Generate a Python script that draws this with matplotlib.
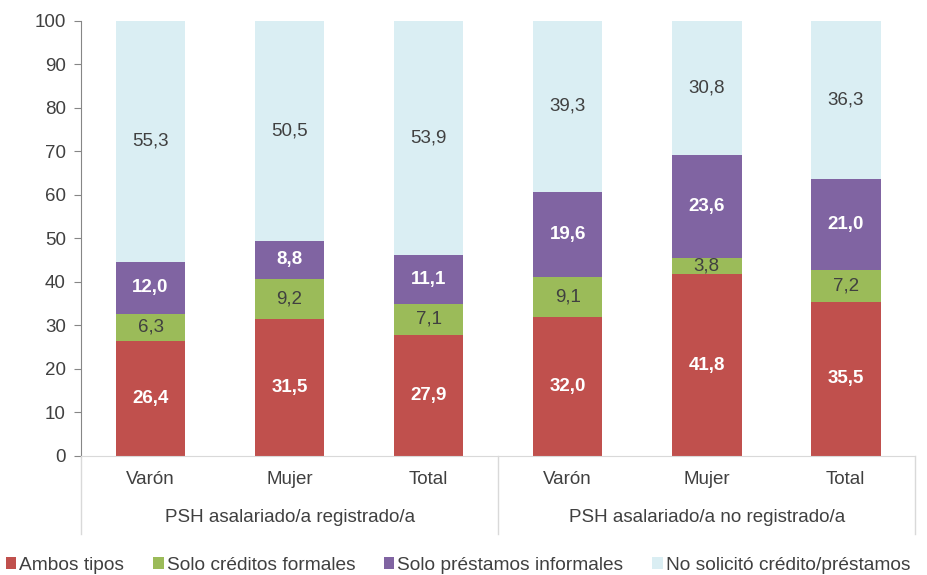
import matplotlib.pyplot as plt
from matplotlib.transforms import blended_transform_factory

plt.rcParams['font.family'] = ['Liberation Sans', 'DejaVu Sans']

categorias = ["Varón", "Mujer", "Total", "Varón", "Mujer", "Total"]
grupos = ["PSH asalariado/a registrado/a", "PSH asalariado/a no registrado/a"]

ambos = [26.4, 31.5, 27.9, 32.0, 41.8, 35.5]
creditos = [6.3, 9.2, 7.1, 9.1, 3.8, 7.2]
prestamos = [12.0, 8.8, 11.1, 19.6, 23.6, 21.0]
no_solicito = [55.3, 50.5, 53.9, 39.3, 30.8, 36.3]

series = [
    ("Ambos tipos", ambos, "#C0504D", "white", "bold"),
    ("Solo créditos formales", creditos, "#9BBB59", "#404040", "normal"),
    ("Solo préstamos informales", prestamos, "#8064A2", "white", "bold"),
    ("No solicitó crédito/préstamos", no_solicito, "#DAEEF3", "#404040", "normal"),
]

FS = 13.5

fig = plt.figure(figsize=(9.27, 5.75), dpi=100)
ax = fig.add_axes([0.0874, 0.207, 0.9, 0.7565])

x = list(range(len(categorias)))
bottom = [0.0] * len(x)
for nombre, vals, color, tcol, peso in series:
    ax.bar(x, vals, 0.5, bottom=bottom, color=color, label=nombre)
    for i, v in enumerate(vals):
        ax.text(x[i], bottom[i] + v / 2, f"{v:.1f}".replace(".", ","),
                ha="center", va="center", color=tcol, fontweight=peso, fontsize=FS)
    bottom = [b + v for b, v in zip(bottom, vals)]

ax.set_xlim(-0.5, 5.5)
ax.set_ylim(0, 100)
ax.set_yticks(range(0, 101, 10))
ax.tick_params(axis="y", direction="out", length=5, color="#868686", labelcolor="#404040", labelsize=FS, pad=6)
ax.set_xticks([])
for s in ["top", "right"]:
    ax.spines[s].set_visible(False)
ax.spines["left"].set_color("#868686")
ax.spines["bottom"].set_color("#D9D9D9")

tr = blended_transform_factory(ax.transData, ax.transAxes)
for xs in [-0.5, 2.5, 5.5]:
    ax.plot([xs, xs], [0, -0.18], transform=tr, color="#D9D9D9", lw=1, clip_on=False)

for i, c in enumerate(categorias):
    ax.text(i, -0.055, c, transform=tr, ha="center", va="center", fontsize=FS, color="#404040")
for g, xc in zip(grupos, [1, 4]):
    ax.text(xc, -0.1425, g, transform=tr, ha="center", va="center", fontsize=FS, color="#404040")

fig.legend(loc="lower left", bbox_to_anchor=(-0.006, -0.018), ncol=4, frameon=False,
           handlelength=0.55, handleheight=0.55, handletextpad=0.15, columnspacing=1.5,
           fontsize=13.8, labelcolor="#404040", borderaxespad=0.2)

fig.savefig("out.png", dpi=100)
